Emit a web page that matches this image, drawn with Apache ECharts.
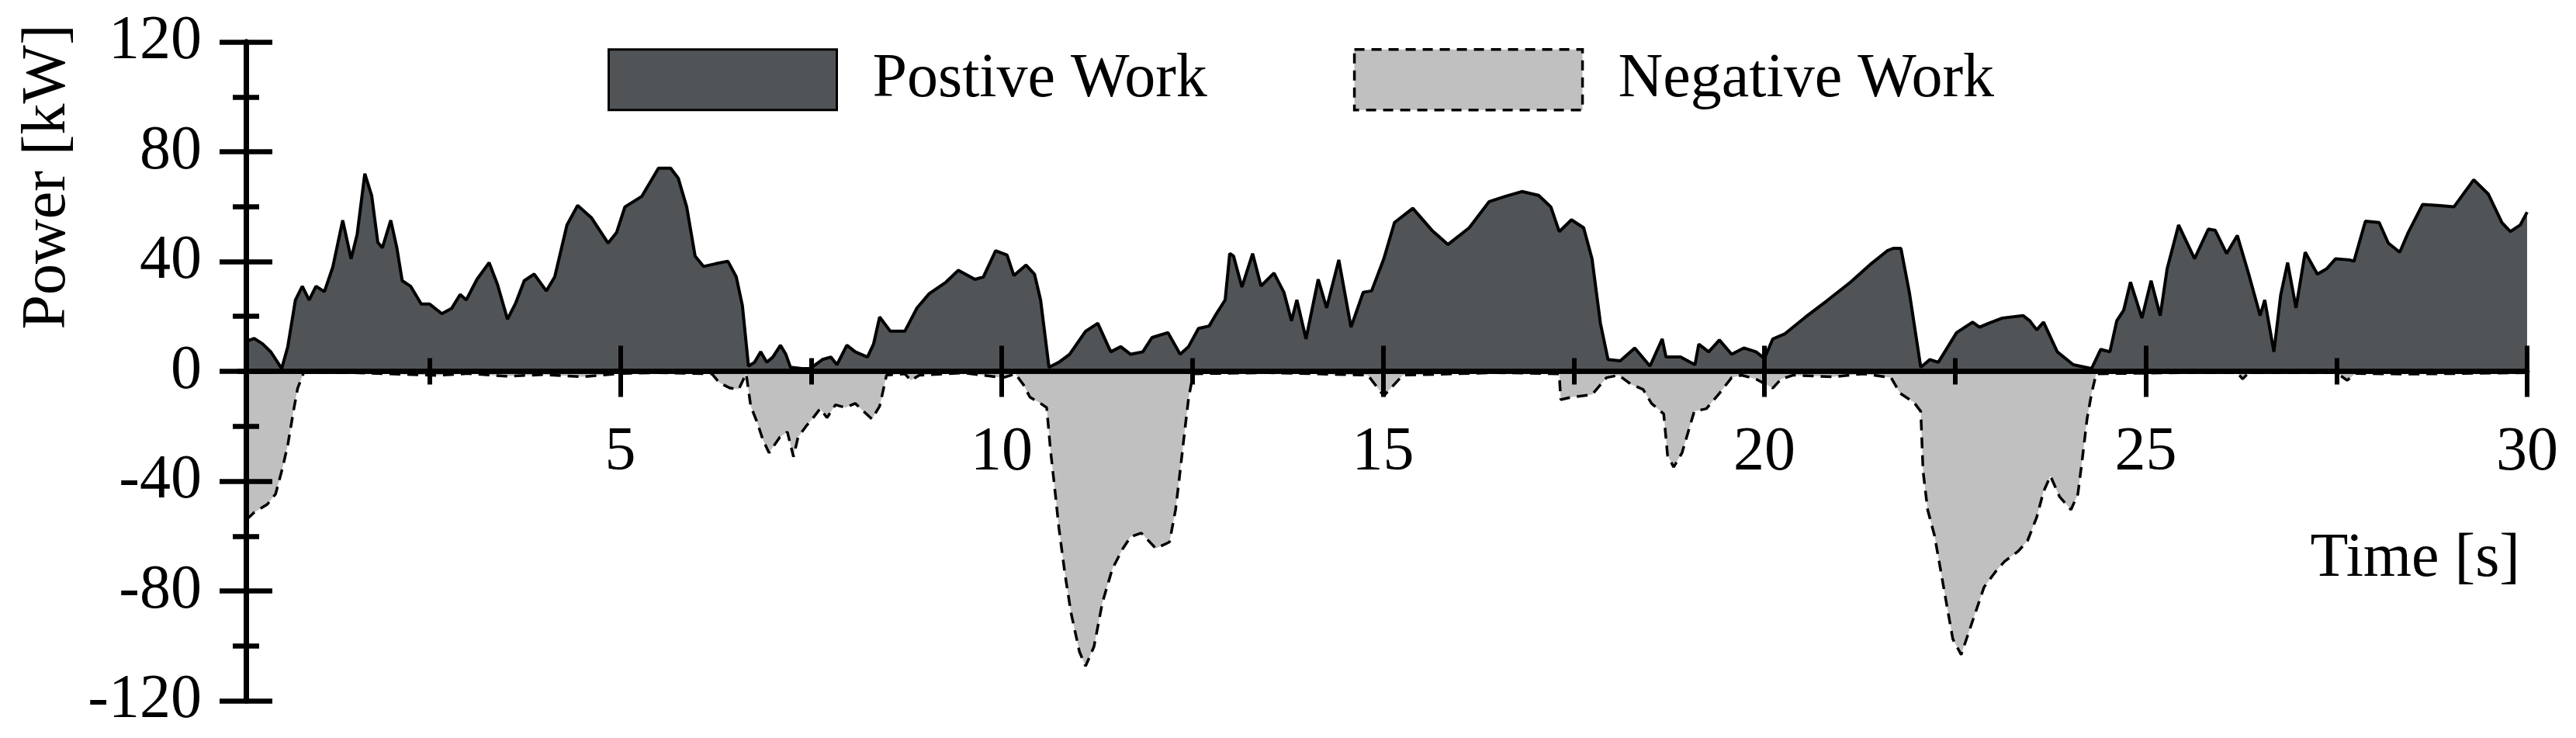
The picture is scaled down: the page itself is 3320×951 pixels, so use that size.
<!DOCTYPE html>
<html>
<head>
<meta charset="utf-8">
<style>html,body{margin:0;padding:0;background:#fff}#main{width:3320px;height:951px}</style>
<script src="https://cdn.jsdelivr.net/npm/echarts@6/dist/echarts.min.js"></script>
</head>
<body>
<div id="main"></div>
<script>
// positive work, time [s] / power [kW]
var posTime = [0.1,0.2,0.31,0.42,0.56,0.64,0.74,0.83,0.92,1.01,1.12,1.23,1.36,1.47,1.55,1.65,1.74,1.82,1.88,1.99,
  2.07,2.14,2.25,2.39,2.5,2.66,2.79,2.9,2.98,3.12,3.28,3.39,3.52,3.63,3.74,3.87,4.03,4.14,4.3,4.44,
  4.62,4.84,4.95,5.06,5.17,5.28,5.5,5.66,5.76,5.87,5.98,6.09,6.25,6.41,6.52,6.6,6.68,6.76,6.84,6.92,
  7.0,7.1,7.17,7.23,7.38,7.49,7.65,7.76,7.84,7.97,8.08,8.24,8.32,8.4,8.54,8.73,8.89,9.05,9.27,9.43,
  9.65,9.76,9.92,10.07,10.16,10.32,10.43,10.51,10.62,10.75,10.89,11.1,11.26,11.43,11.56,11.69,11.85,11.97,12.18,12.34,
  12.45,12.58,12.72,12.8,12.93,12.99,13.04,13.15,13.29,13.4,13.57,13.7,13.8,13.87,13.99,14.15,14.26,14.42,14.58,14.74,
  14.85,15.01,15.15,15.39,15.64,15.85,16.13,16.39,16.6,16.82,17.04,17.2,17.31,17.47,17.63,17.74,17.85,17.95,18.11,18.3,
  18.5,18.66,18.71,18.9,19.09,19.14,19.27,19.41,19.57,19.73,19.89,20.0,20.11,20.27,20.54,20.81,21.13,21.4,21.61,21.69,
  21.79,21.9,22.05,22.17,22.28,22.52,22.73,22.82,22.94,23.12,23.39,23.48,23.57,23.66,23.84,24.05,24.29,24.41,24.53,24.62,
  24.71,24.8,24.95,25.07,25.19,25.28,25.43,25.64,25.82,25.91,26.06,26.2,26.35,26.5,26.56,26.68,26.77,26.86,26.97,27.09,
  27.25,27.37,27.49,27.67,27.73,27.88,28.06,28.18,28.33,28.44,28.63,28.83,29.04,29.3,29.49,29.67,29.78,29.91,30.0];
var posPower = [11,12,10,7,1,9,26,31,26,31,29,38,55,41,50,72,64,47,45,55,
  45,33,31,24.5,24.5,21,23,28,26,33.5,39.6,31.6,19,25,33,35.4,29.3,34.4,53.3,60.4,
  56,46.7,50.5,59.9,61.8,63.7,74,74,70.3,59.9,42,38.2,39.2,40.1,34.4,24,1.9,3.3,7.1,3.3,
  5.2,9.5,6.2,1.5,1,1,4.3,5.2,2.4,9.5,7.1,5.2,9.9,19.8,14.6,14.6,23.1,28.3,32.5,36.8,
  33.5,34.4,43.9,42.4,34.9,38.7,35.4,26,1.5,3.3,6.2,14.6,17.5,7.1,9,6.2,7.1,12.3,14.1,6.2,
  9,15.6,16.5,20.3,26,42.9,42,30.7,42.9,31.1,35.8,28.8,18.4,26,11.8,33.5,23.1,40.6,16.1,28.8,
  29.3,41,54.2,59.4,51.4,46.2,52.3,61.8,63.7,65.5,64.1,59.9,50.9,55.2,52.3,41,17.5,4.3,3.8,8.5,
  1.9,11.8,5.2,5.2,2.4,9.9,7.1,11.4,6.2,8.5,7.1,4.7,11.8,13.7,19.8,25.5,32.5,39.2,43.9,44.8,
  44.8,28.8,1.5,4.3,3.3,14.1,17.9,16.1,17.5,19.4,20.3,18.4,15.1,17.9,7.1,2.4,1,8,7.1,18.4,
  22.2,32.5,19.4,33,20.3,37.3,53.3,41,51.8,51.4,42.9,49.5,35.4,20.3,26,7.1,27.9,39.6,23.1,43.4,
  35.4,37.3,41,40.6,40.1,54.7,54.2,46.7,43.4,50.5,60.8,60.4,59.9,69.8,64.6,54.2,50.9,53.3,58];

// negative work
var negTime = [0.1,0.2,0.37,0.48,0.57,0.64,0.72,0.77,0.85,1.5,2.6,3.0,3.5,4.0,4.5,5.0,5.5,6.2,6.3,6.44,
  6.55,6.65,6.71,6.79,6.87,6.95,7.09,7.19,7.27,7.33,7.43,7.54,7.62,7.71,7.82,7.95,8.08,8.19,8.3,8.4,
  8.49,8.73,8.81,8.92,9.5,10.02,10.18,10.29,10.37,10.51,10.59,10.64,10.7,10.75,10.83,10.91,11.02,11.1,11.21,11.32,
  11.45,11.59,11.69,11.83,12.02,12.2,12.28,12.34,12.39,12.45,12.51,13.5,14.8,15.01,15.26,16.5,17.31,17.33,17.47,17.74,
  17.93,18.09,18.25,18.41,18.52,18.68,18.73,18.81,18.92,19.08,19.24,19.41,19.57,19.7,19.89,20.11,20.22,20.38,20.9,21.3,
  21.66,21.78,21.96,22.05,22.08,22.14,22.23,22.29,22.38,22.47,22.58,22.73,22.88,23.03,23.15,23.33,23.45,23.57,23.66,23.75,
  23.87,24.02,24.11,24.17,24.23,24.29,24.35,25.5,26.2,26.27,26.35,27.5,27.64,27.75,28.5,30.0];
var negPower = [-54,-51.4,-48.5,-44.7,-35.3,-26.8,-13.6,-6.1,-0.4,-0.5,-1.5,-0.8,-1.8,-1.2,-2,-0.8,-0.5,-0.9,-4.2,-6.1,
  -6.6,-0.9,-12.7,-18.3,-25,-29.7,-24,-22.1,-31.1,-24,-20.2,-16.5,-13.6,-16.9,-12.2,-13.2,-11.7,-14.6,-17.4,-12.7,
  -1.4,-0.9,-3.3,-1.4,-0.6,-2.3,-0.9,-5.1,-9.4,-11.7,-13.2,-28.7,-43.8,-57,-73.9,-88.1,-102.2,-107.4,-100.3,-84.3,
  -72,-64.5,-60.3,-58.9,-64.5,-62.2,-50.4,-36.3,-24,-9.9,-0.9,-0.5,-1.4,-8.9,-1.4,-0.5,-0.9,-10.3,-9.4,-8.5,
  -2.3,-1.4,-4.7,-6.6,-11.7,-15.5,-30.6,-34.9,-29.7,-14.6,-13.6,-8,-2.3,-1.4,-2.8,-6.1,-2.8,-1.4,-2,-0.9,
  -2.3,-8,-11.3,-14.6,-36.3,-50.4,-59.8,-69.2,-83.4,-97.5,-103.2,-90.9,-78.6,-73,-69.2,-65.5,-61.7,-53.2,-43.8,-38.1,
  -45.7,-50.4,-44.7,-31.5,-17.4,-8,-0.9,-0.5,-0.5,-2.8,-0.5,-0.5,-3.3,-0.8,-1,-0.5];

var xTicks = [5, 10, 15, 20, 25, 30];
var yTicks = [-120, -80, -40, 0, 40, 80, 120];

function pairs(t, v) {
    return t.map(function (x, i) { return [x, v[i]]; });
}

var font = 'Liberation Serif';
var dark = '#505457';
var light = '#c0c0c0';

// grid: top 54, bottom 48 -> height 849, so power 0 sits 424.5px above the grid bottom
function xAxisOf(inside) {
    return {
        type: 'value', min: 0, max: 30, interval: 5, position: 'bottom', offset: -424.5, z: 5,
        axisLine: { show: true, onZero: false, lineStyle: { color: '#000', width: 6.5 } },
        axisTick: { inside: inside, length: 33, customValues: xTicks, lineStyle: { color: '#000', width: 6 } },
        minorTick: { show: true, splitNumber: 2, length: 17, lineStyle: { color: '#000', width: 6 } },
        axisLabel: { show: !inside, customValues: xTicks, margin: 65, fontFamily: font, fontSize: 80, color: '#000' },
        splitLine: { show: false },
        name: inside ? '' : 'Time [s]',
        nameLocation: 'end',
        nameGap: 0,
        nameTextStyle: { fontFamily: font, fontSize: 80, color: '#000', align: 'right', verticalAlign: 'top', padding: [202, 9, 0, 0] }
    };
}

function yAxisOf(inside) {
    return {
        type: 'value', min: -120, max: 120, interval: 40, position: 'left', offset: -9, z: 5,
        axisLine: { show: true, onZero: false, lineStyle: { color: '#000', width: 7 } },
        axisTick: { inside: inside, length: 34, customValues: yTicks, lineStyle: { color: '#000', width: 6.5 } },
        minorTick: { show: true, splitNumber: 2, length: 17, lineStyle: { color: '#000', width: 6.5 } },
        axisLabel: { show: !inside, customValues: yTicks, margin: 57, fontFamily: font, fontSize: 80, color: '#000' },
        splitLine: { show: false }
    };
}

var myChart = echarts.init(document.getElementById('main'));
myChart.setOption({
    animation: false,
    grid: { left: 308, right: 63, top: 54, bottom: 48, containLabel: false, outerBoundsMode: 'none' },
    legend: {
        left: 778, top: 57,
        itemWidth: 294, itemHeight: 78, itemGap: 188,
        textStyle: { fontFamily: font, fontSize: 80, color: '#000', padding: [0, 0, 0, 41] },
        data: [
            { name: 'Postive Work', icon: 'rect', itemStyle: { color: dark, borderColor: '#000', borderWidth: 3 } },
            { name: 'Negative Work', icon: 'rect', itemStyle: { color: light, borderColor: '#000', borderWidth: 3.5, borderType: [13, 9] } }
        ]
    },
    xAxis: [xAxisOf(false), xAxisOf(true)],
    yAxis: [yAxisOf(false), yAxisOf(true)],
    graphic: [{
        type: 'text', x: 62, y: 228, rotation: Math.PI / 2,
        style: { text: 'Power [kW]', font: '80px "Liberation Serif"', align: 'center', verticalAlign: 'middle', fill: '#000' }
    }],
    series: [
        {
            name: 'Postive Work', type: 'line', xAxisIndex: 0, yAxisIndex: 0,
            data: pairs(posTime, posPower), showSymbol: false, symbol: 'none',
            lineStyle: { color: '#000', width: 4 },
            itemStyle: { color: dark },
            areaStyle: { color: dark, opacity: 1 }
        },
        {
            name: 'Negative Work', type: 'line', xAxisIndex: 0, yAxisIndex: 0,
            data: pairs(negTime, negPower), showSymbol: false, symbol: 'none',
            lineStyle: { color: '#000', width: 3.5, type: [14, 9] },
            itemStyle: { color: light },
            areaStyle: { color: light, opacity: 1 }
        }
    ]
});
</script>
</body>
</html>
